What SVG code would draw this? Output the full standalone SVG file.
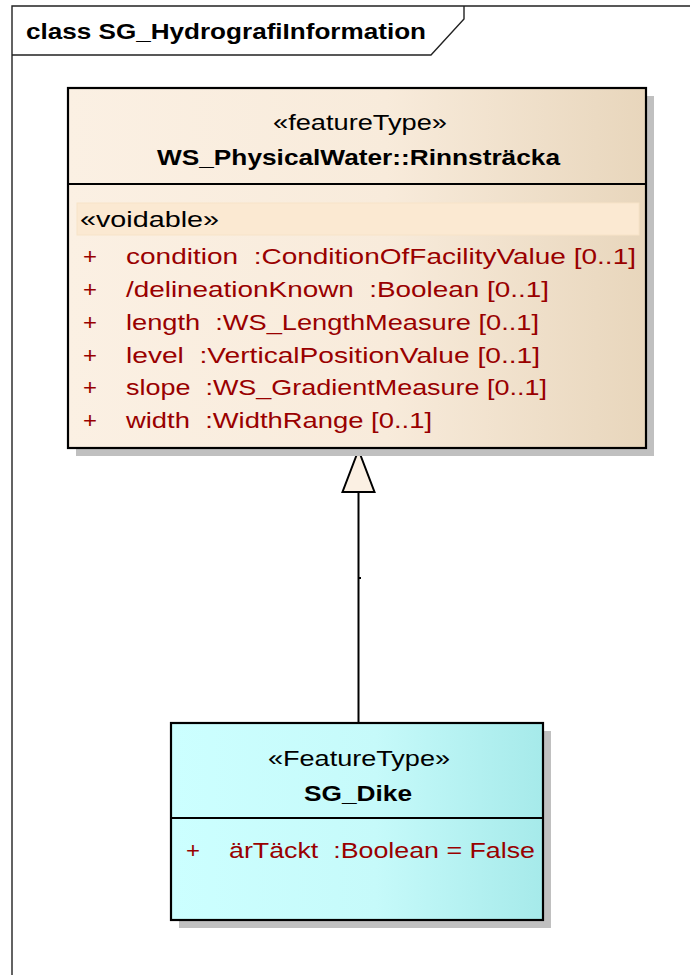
<svg xmlns="http://www.w3.org/2000/svg" width="690" height="975" viewBox="0 0 690 975">
<defs>
<linearGradient id="gTan" x1="0" y1="0" x2="1" y2="0">
<stop offset="0" stop-color="#FBF0E3"/>
<stop offset="0.55" stop-color="#F8EBDB"/>
<stop offset="1" stop-color="#E8D6BC"/>
</linearGradient>
<linearGradient id="gCyan" x1="0" y1="0" x2="1" y2="0">
<stop offset="0" stop-color="#CCFFFF"/>
<stop offset="0.55" stop-color="#C6FAFA"/>
<stop offset="1" stop-color="#A6EAEA"/>
</linearGradient>
<style>
.frame{fill:none;stroke:#222;stroke-width:1.4}
.box{stroke:#000;stroke-width:2.2}
.shadow{fill:#C0C0C0}
.div{stroke:#000;stroke-width:2}
text{white-space:pre}
.t{font-family:"Liberation Sans",Arial,sans-serif;fill:#000}
.st{font-size:21.5px}
.nm{font-size:22px;font-weight:bold}
.at{font-family:"Liberation Sans",Arial,sans-serif;font-size:22px;fill:#990000}
.conn{stroke:#000;stroke-width:2;fill:none}
</style>
</defs>
<g id="frame">
<path class="frame" d="M12,975 V6 H690"/>
<path class="frame" d="M12,55 H431 L464,19 V6"/>
<text class="t" x="26" y="39" font-size="21.5" font-weight="bold" textLength="400" lengthAdjust="spacingAndGlyphs">class SG_HydrografiInformation</text>
</g>
<g id="connectors">
<line class="conn" x1="358.5" y1="492" x2="358.5" y2="723"/>
<rect x="359" y="577" width="2" height="2" fill="#000"/>
<polygon points="358.5,450 342.5,492 374.5,492" fill="#FBF0E3" stroke="#000" stroke-width="2" stroke-linejoin="miter"/>
</g>
<g id="Rinnstracka">
<rect class="shadow" x="76" y="96" width="578" height="360"/>
<rect class="box" x="68" y="88" width="578" height="360" fill="url(#gTan)"/>
<line class="div" x1="68" y1="184" x2="646" y2="184"/>
<text class="t st" x="273" y="130" textLength="174" lengthAdjust="spacingAndGlyphs">«featureType»</text>
<text class="t nm" x="157" y="165" textLength="403" lengthAdjust="spacingAndGlyphs">WS_PhysicalWater::Rinnsträcka</text>
<rect x="77" y="203" width="562" height="32" fill="#FBE9D2" stroke="#F7E3C8" stroke-width="1"/>
<text class="t" x="80" y="227" font-size="22" textLength="139" lengthAdjust="spacingAndGlyphs">«voidable»</text>
<text class="at" x="83" y="264" textLength="14" lengthAdjust="spacingAndGlyphs">+</text>
<text class="at" x="126" y="264" textLength="510" lengthAdjust="spacingAndGlyphs">condition  :ConditionOfFacilityValue [0..1]</text>
<text class="at" x="83" y="297" textLength="14" lengthAdjust="spacingAndGlyphs">+</text>
<text class="at" x="126" y="297" textLength="423" lengthAdjust="spacingAndGlyphs">/delineationKnown  :Boolean [0..1]</text>
<text class="at" x="83" y="330" textLength="14" lengthAdjust="spacingAndGlyphs">+</text>
<text class="at" x="126" y="330" textLength="413" lengthAdjust="spacingAndGlyphs">length  :WS_LengthMeasure [0..1]</text>
<text class="at" x="83" y="363" textLength="14" lengthAdjust="spacingAndGlyphs">+</text>
<text class="at" x="126" y="363" textLength="414" lengthAdjust="spacingAndGlyphs">level  :VerticalPositionValue [0..1]</text>
<text class="at" x="83" y="395" textLength="14" lengthAdjust="spacingAndGlyphs">+</text>
<text class="at" x="126" y="395" textLength="421" lengthAdjust="spacingAndGlyphs">slope  :WS_GradientMeasure [0..1]</text>
<text class="at" x="83" y="428" textLength="14" lengthAdjust="spacingAndGlyphs">+</text>
<text class="at" x="126" y="428" textLength="306" lengthAdjust="spacingAndGlyphs">width  :WidthRange [0..1]</text>
</g>
<g id="SG_Dike">
<rect class="shadow" x="179" y="731" width="372" height="197"/>
<rect class="box" x="171" y="723" width="372" height="197" fill="url(#gCyan)"/>
<line class="div" x1="171" y1="818" x2="543" y2="818"/>
<text class="t st" x="268" y="766" textLength="182" lengthAdjust="spacingAndGlyphs">«FeatureType»</text>
<text class="t nm" x="304" y="801" textLength="108" lengthAdjust="spacingAndGlyphs">SG_Dike</text>
<text class="at" x="186" y="858" textLength="14" lengthAdjust="spacingAndGlyphs">+</text>
<text class="at" x="229" y="858" textLength="306" lengthAdjust="spacingAndGlyphs">ärTäckt  :Boolean = False</text>
</g>
</svg>
